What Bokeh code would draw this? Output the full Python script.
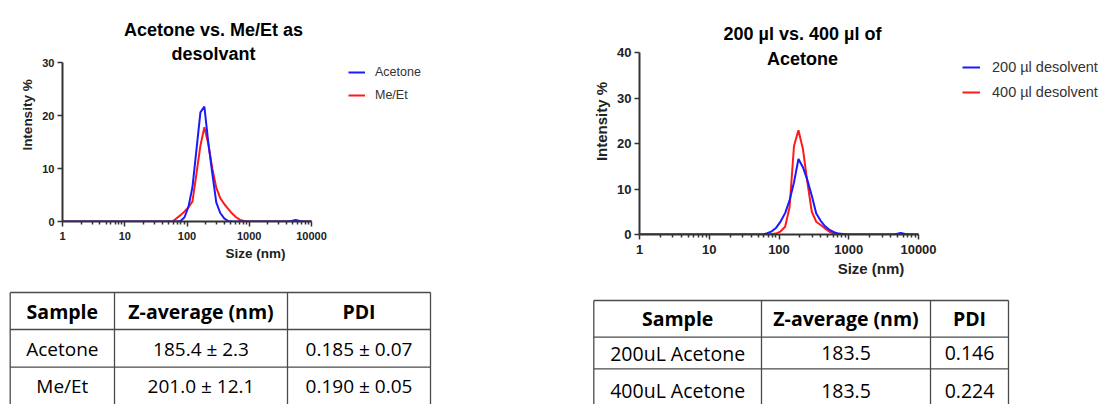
from bokeh.plotting import figure
from bokeh.models import (Range1d, FixedTicker, Legend, LegendItem, Label, Spacer,
                          ColumnDataSource, BasicTickFormatter)
from bokeh.layouts import row, column
from bokeh.embed import file_html
from bokeh.resources import INLINE
from bokeh.core.properties import value

# ---------------- data ----------------
size_nm = [0.4, 0.4632, 0.5365, 0.6213, 0.7195, 0.8332, 0.9649, 1.117, 1.294, 1.499,
           1.736, 2.010, 2.328, 2.696, 3.122, 3.615, 4.187, 4.849, 5.615, 6.503,
           7.531, 8.721, 10.10, 11.70, 13.54, 15.69, 18.17, 21.04, 24.36, 28.21,
           32.67, 37.84, 43.82, 50.75, 58.77, 68.06, 78.82, 91.28, 105.7, 122.4,
           141.8, 164.2, 190.1, 220.2, 255.0, 295.3, 342.0, 396.1, 458.7, 531.2,
           615.1, 712.4, 825.0, 955.4, 1106, 1281, 1484, 1718, 1990, 2305,
           2669, 3091, 3580, 4145, 4801, 5560, 6439, 7456, 8635, 10000]

acetone = [0, 0, 0, 0, 0, 0, 0, 0, 0, 0,
           0, 0, 0, 0, 0, 0, 0, 0, 0, 0,
           0, 0, 0, 0, 0, 0, 0, 0, 0, 0,
           0, 0, 0, 0, 0, 0, 0.1, 0.8, 2.8, 6.5,
           13.5, 20.6, 21.7, 14.8, 9.1, 3.6, 1.6, 0.6, 0.1, 0,
           0, 0, 0, 0, 0, 0, 0, 0, 0, 0,
           0, 0, 0, 0, 0.1, 0.3, 0.1, 0, 0, 0]

me_et = [0, 0, 0, 0, 0, 0, 0, 0, 0, 0,
         0, 0, 0, 0, 0, 0, 0, 0, 0, 0,
         0, 0, 0, 0, 0, 0, 0, 0, 0, 0,
         0, 0, 0, 0, 0, 0.6, 1.2, 1.9, 2.7, 3.8,
         9.0, 14.3, 17.8, 14.6, 10.0, 6.4, 4.4, 3.3, 2.4, 1.5,
         0.8, 0.3, 0.1, 0, 0, 0, 0, 0, 0, 0,
         0, 0, 0, 0, 0, 0, 0, 0, 0, 0]

desolvent_200 = [0, 0, 0, 0, 0, 0, 0, 0, 0, 0,
                 0, 0, 0, 0, 0, 0, 0, 0, 0, 0,
                 0, 0, 0, 0, 0, 0, 0, 0, 0, 0,
                 0, 0, 0, 0, 0, 0.3, 0.7, 1.5, 2.9, 4.7,
                 7.5, 11.5, 16.6, 14.8, 12.0, 8.5, 4.6, 3.0, 1.8, 1.0,
                 0.5, 0.2, 0.1, 0, 0, 0, 0, 0, 0, 0,
                 0, 0, 0, 0, 0.1, 0.35, 0.1, 0, 0, 0]

desolvent_400 = [0, 0, 0, 0, 0, 0, 0, 0, 0, 0,
                 0, 0, 0, 0, 0, 0, 0, 0, 0, 0,
                 0, 0, 0, 0, 0, 0, 0, 0, 0, 0,
                 0, 0, 0, 0, 0, 0, 0.1, 0.2, 0.7, 1.7,
                 6.0, 19.5, 22.9, 18.8, 11.5, 5.0, 2.8, 2.1, 1.3, 0.6,
                 0.2, 0.05, 0, 0, 0, 0, 0, 0, 0, 0,
                 0, 0, 0, 0, 0, 0, 0, 0, 0, 0]

x_ticks = [1, 10, 100, 1000, 10000]
x_tick_labels = ["1", "10", "100", "1000", "10000"]
x_minor = [m * d for d in [1, 10, 100, 1000] for m in range(2, 10)]

left_title = ["Acetone vs. Me/Et as", "desolvant"]
right_title = ["200 \u00b5l vs. 400 \u00b5l of", "Acetone"]
left_series = ["Acetone", "Me/Et"]
right_series = ["200 \u00b5l desolvent", "400 \u00b5l desolvent"]

left_headers = ["Sample", "Z-average (nm)", "PDI"]
left_rows = [["Acetone", "185.4 \u00b1 2.3", "0.185 \u00b1 0.07"],
             ["Me/Et", "201.0 \u00b1 12.1", "0.190 \u00b1 0.05"]]
right_headers = ["Sample", "Z-average (nm)", "PDI"]
right_rows = [["200uL Acetone", "183.5", "0.146"],
              ["400uL Acetone", "183.5", "0.224"]]

BLUE = "#1a1aff"
RED = "#ff1a1a"
AX = "#333333"
FONT = "Liberation Sans"


def chart(w, h, bl, bb, ppd, ymax, ypx, tick_fs, lab_fs, title_lines, title_cx,
          title_y, series_a, series_b, names, leg_pos, leg_fs, glyph_w,
          standoff, spacing):
    fw, fh = w - bl, h - bb
    p = figure(width=w, height=h, x_axis_type="log",
               x_range=Range1d(1, 10 ** (fw / ppd)),
               y_range=Range1d(0, ymax * fh / ypx),
               toolbar_location=None, output_backend="svg", title=None,
               min_border_left=bl, min_border_bottom=bb,
               min_border_right=0, min_border_top=0)
    p.frame_align = False
    p.outline_line_color = None
    p.grid.visible = False
    p.background_fill_color = "white"
    p.border_fill_color = "white"

    src = ColumnDataSource(dict(x=size_nm, a=series_a, b=series_b))
    r_b = p.line("x", "b", source=src, color=RED, line_width=2)
    r_a = p.line("x", "a", source=src, color=BLUE, line_width=2)

    xa = p.xaxis[0]
    xa.ticker = FixedTicker(ticks=x_ticks, minor_ticks=x_minor)
    xa.formatter = BasicTickFormatter()
    xa.major_label_overrides = {t: s for t, s in zip(x_ticks, x_tick_labels)}
    xa.axis_label = "Size (nm)"
    xa.bounds = (x_ticks[0], x_ticks[-1])
    ya = p.yaxis[0]
    ya.ticker = FixedTicker(ticks=list(range(0, ymax + 1, 10)), minor_ticks=[])
    ya.axis_label = "Intensity %"
    ya.bounds = (0, ymax)
    for ax in (xa, ya):
        ax.axis_line_color = AX
        ax.axis_line_width = 2
        ax.major_tick_line_color = AX
        ax.major_tick_line_width = 1.5
        ax.major_tick_in = 0
        ax.major_tick_out = 5
        ax.minor_tick_line_color = AX
        ax.minor_tick_line_width = 1.5
        ax.minor_tick_in = 0
        ax.minor_tick_out = 3
        ax.major_label_text_font = FONT
        ax.major_label_text_font_style = "bold"
        ax.major_label_text_font_size = f"{tick_fs}px"
        ax.major_label_text_color = "#222222"
        ax.axis_label_text_font = FONT
        ax.axis_label_text_font_style = "bold"
        ax.axis_label_text_font_size = f"{lab_fs}px"
        ax.axis_label_text_color = "#222222"
    xa.major_label_standoff = 5
    xa.axis_label_standoff = 3
    ya.major_label_standoff = 3
    ya.axis_label_standoff = 4

    for i, t in enumerate(title_lines):
        p.add_layout(Label(x=title_cx, y=title_y[i], x_units="screen", y_units="screen",
                           text=t, text_align="center", text_baseline="alphabetic",
                           text_font=FONT, text_font_style="bold",
                           text_font_size="18px", text_color="black"))

    leg = Legend(items=[LegendItem(label=names[0], renderers=[r_a]),
                        LegendItem(label=names[1], renderers=[r_b])],
                 location=leg_pos, orientation="vertical",
                 margin=0, padding=0, spacing=spacing,
                 glyph_width=glyph_w, glyph_height=20, label_height=20,
                 label_standoff=standoff, label_text_font=FONT,
                 label_text_font_size=f"{leg_fs}px", label_text_color="#333333",
                 border_line_alpha=0, background_fill_alpha=0)
    p.add_layout(leg, "center")
    return p


def table(w, h, xs, ys, v_bottom, headers, rows, text_ys, hdr_fs, body_fs):
    p = figure(width=w, height=h, x_range=Range1d(0, w), y_range=Range1d(h, 0),
               toolbar_location=None, output_backend="svg", min_border=0, title=None,
               x_axis_location=None, y_axis_location=None)
    p.frame_align = False
    p.outline_line_color = None
    p.grid.visible = False
    p.background_fill_color = "white"
    p.border_fill_color = "white"
    p.segment(x0=xs, y0=[ys[0]] * len(xs), x1=xs, y1=[v_bottom] * len(xs),
              line_color="#4a4a4a", line_width=1.3)
    p.segment(x0=[xs[0]] * len(ys), y0=ys, x1=[xs[-1]] * len(ys), y1=ys,
              line_color="#4a4a4a", line_width=1.3)
    cx = [(xs[i] + xs[i + 1]) / 2 for i in range(len(xs) - 1)]
    p.text(x=cx, y=[text_ys[0]] * len(cx), text=headers, text_align="center",
           text_baseline="middle", text_font=value("Open Sans"), text_font_style="bold",
           text_font_size=f"{hdr_fs}px", text_color="black")
    bx, by, bt = [], [], []
    for r, rr in enumerate(rows):
        for c, s in enumerate(rr):
            bx.append(cx[c]); by.append(text_ys[r + 1]); bt.append(s)
    p.text(x=bx, y=by, text=bt, text_align="center", text_baseline="middle",
           text_font=value("Open Sans"), text_font_size=f"{body_fs}px", text_color="black")
    return p


# left chart: fig 440x280 at page (8,8); axis origin at page (62,221)
c1 = chart(440, 280, 54, 67, 62.25, 30, 159, 11, 13.5, left_title, 151, [192, 168],
           acetone, me_et, left_series, (286, 116), 12.5, 17, 10, 3)
# right chart: fig 522x282 at page (580,8); axis origin at page (639,234)
c2 = chart(522, 282, 59, 56, 69.75, 40, 182, 13, 15, right_title, 163, [201, 176],
           desolvent_200, desolvent_400, right_series, (323, 132), 14.5, 18, 12, 5)

t1 = table(440, 116, [1.7, 106, 279, 422], [4, 41, 78.7], 130,
           left_headers, left_rows, [22.5, 60, 97.5], 19.5, 19)
t2 = table(522, 114, [13.3, 181, 350, 428], [10, 46.7, 78.3], 130,
           right_headers, right_rows, [28.3, 62.5, 100], 19.5, 19.5)

layout = column(Spacer(width=1102, height=8),
                row(Spacer(width=8, height=396), column(c1, t1),
                    Spacer(width=132, height=396), column(c2, t2)))

open("out.html", "w").write(file_html(layout, INLINE))
